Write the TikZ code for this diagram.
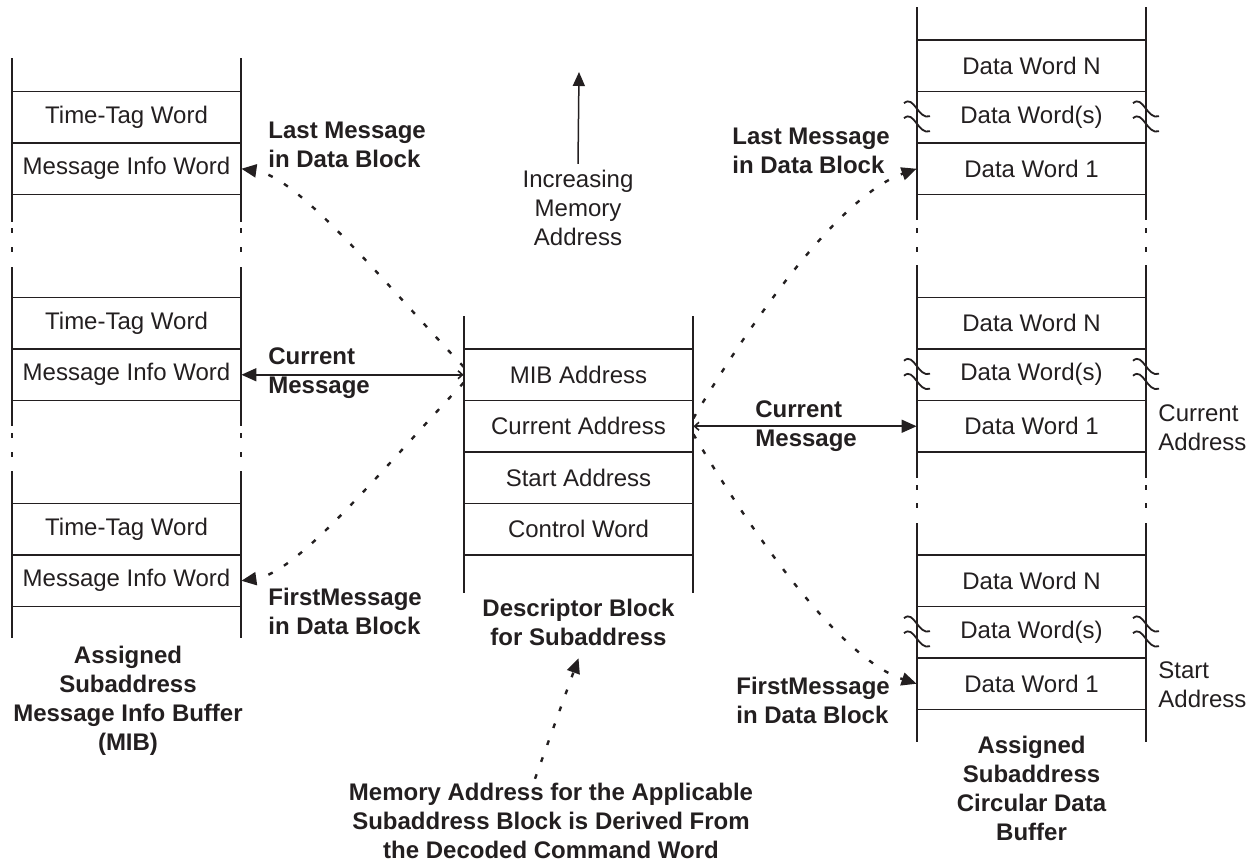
\documentclass[tikz,border=0pt]{standalone}
\usepackage{fontspec}
\setmainfont{Liberation Sans}
\usetikzlibrary{arrows.meta}
\definecolor{ink}{HTML}{231F20}

\begin{document}
\begin{tikzpicture}[x=0.5pt,y=-0.5pt,
    every node/.style={text=ink,font=\fontsize{12}{14.5}\selectfont},
    cell/.style={minimum width=114.5pt,minimum height=25.75pt,inner sep=0pt},
    note/.style={font=\fontsize{12}{14.5}\selectfont\bfseries,align=left,inner sep=0pt,anchor=west},
    side/.style={align=left,inner sep=0pt,anchor=west},
    capt/.style={font=\fontsize{12}{14.5}\selectfont\bfseries,align=center,inner sep=0pt},
    wall/.style={ink,line width=1.15pt},
    rung/.style={ink,line width=0.9pt},
    hop/.style={ink,line width=1.2pt,dash pattern=on 2.4pt off 6.6pt,-{Triangle[length=7.5pt,width=6.5pt]}},
    feed/.style={ink,line width=0.8pt,{Straight Barb[length=2.2pt,width=4pt]}-{Triangle[length=7.5pt,width=6.5pt]}},
    brk/.style={ink,line width=0.9pt}]

    \useasboundingbox (0,0) rectangle (1256,862);

    % Message info buffer on the left, three slices
    \foreach \x in {12,241}
        \draw[wall] (\x,58)--(\x,222) (\x,228)--(\x,233) (\x,247)--(\x,252)
                    (\x,267)--(\x,426) (\x,433)--(\x,438) (\x,452)--(\x,457)
                    (\x,471)--(\x,638);
    \foreach \y in {91.5,143,194.5,297.5,349,400.5,503.5,555,606.5}
        \draw[rung] (12,\y)--(241,\y);
    \node[cell] (tag1) at (126.5,117.25) {Time-Tag Word};
    \node[cell] (info1) at (126.5,168.75) {Message Info Word};
    \node[cell] (tag2) at (126.5,323.25) {Time-Tag Word};
    \node[cell] (info2) at (126.5,374.75) {Message Info Word};
    \node[cell] (tag3) at (126.5,529.25) {Time-Tag Word};
    \node[cell] (info3) at (126.5,580.75) {Message Info Word};
    \node[capt] (mibT) at (128,700.5) {Assigned\\Subaddress\\Message Info Buffer\\(MIB)};

    % Descriptor block in the middle
    \draw[wall] (464,316)--(464,593) (693,316)--(693,593);
    \foreach \y in {349,400.5,452,503.5,555}
        \draw[rung] (464,\y)--(693,\y);
    \node[cell] (mib) at (578.5,374.75) {MIB Address};
    \node[cell] (cur) at (578.5,426.25) {Current Address};
    \node[cell] (start) at (578.5,477.75) {Start Address};
    \node[cell] (ctrl) at (578.5,529.25) {Control Word};
    \node[capt] (desc) at (578.5,622.5) {Descriptor Block\\for Subaddress};

    % Circular data buffer on the right, three slices
    \foreach \x in {917,1146}
        \draw[wall] (\x,7)--(\x,220) (\x,228)--(\x,233) (\x,247)--(\x,252)
                    (\x,265)--(\x,478) (\x,485)--(\x,490) (\x,503)--(\x,508)
                    (\x,523)--(\x,742);
    \foreach \y in {40,91.5,143,194.5,297.5,349,400.5,452,555,606.5,658,709.5}
        \draw[rung] (917,\y)--(1146,\y);
    \node[cell] (wN1) at (1031.5,65.75) {Data Word N};
    \node[cell] (ws1) at (1031.5,117.25) {Data Word(s)};
    \node[cell] (w11) at (1031.5,168.75) {Data Word 1};
    \node[cell] (wN2) at (1031.5,323.25) {Data Word N};
    \node[cell] (ws2) at (1031.5,374.75) {Data Word(s)};
    \node[cell] (w12) at (1031.5,426.25) {Data Word 1};
    \node[cell] (wN3) at (1031.5,580.75) {Data Word N};
    \node[cell] (ws3) at (1031.5,632.25) {Data Word(s)};
    \node[cell] (w13) at (1031.5,683.75) {Data Word 1};
    \node[capt] (cdbT) at (1031.5,788.5) {Assigned\\Subaddress\\Circular Data\\Buffer};

    % Break marks on the Data Word(s) rows
    \foreach \x in {917,1146}
        \foreach \y in {117.25,374.75,632.25}
            \draw[brk] (\x-13,\y-14) .. controls (\x-3,\y-23) and (\x+1,\y+3) .. (\x+13,\y-1)
                       (\x-13,\y+1) .. controls (\x-3,\y-8) and (\x+1,\y+18) .. (\x+13,\y+14);

    % Address labels beside the right buffer
    \node[side] (curA) at (1158,428) {Current\\Address};
    \node[side] (startA) at (1158,685) {Start\\Address};

    % Increasing memory address
    \node[align=center,inner sep=0pt] (incr) at (578,208) {Increasing\\Memory\\Address};
    \coordinate (up) at (579,72);
    \draw[ink,line width=0.75pt,-{Triangle[length=7pt,width=6pt]}] ([yshift=3pt]incr.north) -- (up);

    % Pointer labels
    \node[note] (lastL) at (268,145) {Last Message\\in Data Block};
    \node[note] (curL) at (268,373.5) {Current\\Message};
    \node[note] (firstL) at (268,611.5) {FirstMessage\\in Data Block};
    \node[note] (lastR) at (732,151) {Last Message\\in Data Block};
    \node[note] (curR) at (755,426) {Current\\Message};
    \node[note] (firstR) at (736,700) {FirstMessage\\in Data Block};

    % Solid pointers for the current message
    \draw[feed] (mib.west) -- (info2.east);
    \draw[feed] (cur.east) -- (w12.west);

    % Dotted pointers to first and last message
    \draw[hop] ([yshift=4pt]mib.west) .. controls +(-82,-87) and +(57,8) .. (info1.east);
    \draw[hop] ([yshift=-4pt]mib.west) .. controls +(-82,87) and +(57,-8) .. (info3.east);
    \draw[hop] ([yshift=4pt]cur.east) .. controls +(40,-68) and +(-85,30) .. (w11.west);
    \draw[hop] ([yshift=-4pt]cur.east) .. controls +(40,68) and +(-85,-28) .. (w13.west);

    % Where the descriptor block address comes from
    \node[capt] (memo) at (551,821) {Memory Address for the Applicable\\Subaddress Block is Derived From\\the Decoded Command Word};
    \draw[hop] ([xshift=-8pt,yshift=2pt]memo.north) -- ([yshift=-6pt]desc.south);

\end{tikzpicture}
\end{document}
